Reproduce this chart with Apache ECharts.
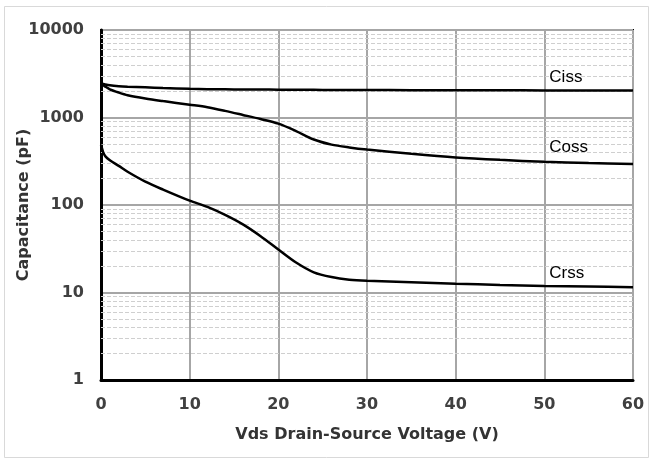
<!DOCTYPE html>
<html>
<head>
<meta charset="utf-8">
<script src="https://cdn.jsdelivr.net/npm/echarts@6/dist/echarts.min.js"></script>
<style>
html,body{margin:0;padding:0;background:#fff;}
#chart{width:653px;height:459px;}
</style>
</head>
<body>
<div id="chart"></div>
<script>
// ---- Data ----
var vds  = [0, 0.25, 0.5, 1, 2, 3, 5, 7, 10, 12, 14, 16, 18, 20, 22, 24, 26, 28, 30, 35, 40, 45, 50, 55, 60];
var ciss = [2450, 2420, 2380, 2330, 2280, 2250, 2210, 2170, 2130, 2110, 2100, 2090, 2085, 2080, 2075, 2070, 2065, 2060, 2060, 2055, 2050, 2045, 2040, 2035, 2030];
var coss = [2450, 2350, 2250, 2100, 1930, 1800, 1650, 1540, 1400, 1310, 1190, 1070, 960, 850, 700, 560, 490, 455, 430, 385, 350, 328, 312, 302, 295];
var crss = [490, 400, 360, 325, 280, 240, 185, 150, 112, 95, 77, 60, 44, 31, 22, 17, 15, 14, 13.6, 13.1, 12.6, 12.2, 11.9, 11.7, 11.5];

var seriesNames = ['Ciss', 'Coss', 'Crss'];
var labelV      = [50, 50, 50];
var labelC      = [2850, 461, 16.4];

var xTicks = [0, 10, 20, 30, 40, 50, 60];
var yTicks = [1, 10, 100, 1000, 10000];
var minorY = [2,3,4,5,6,7,8,9, 20,30,40,50,60,70,80,90, 200,300,400,500,600,700,800,900, 2000,3000,4000,5000,6000,7000,8000,9000];

var xTitle = 'Vds Drain-Source Voltage (V)';
var yTitle = 'Capacitance (pF)';

function pairs(xs, ys){ return xs.map(function(x,i){ return [x, ys[i]]; }); }

var allVals = [ciss, coss, crss];

var chart = echarts.init(document.getElementById('chart'), null, {renderer:'canvas'});

var series = seriesNames.map(function(name, i){
  var s = {
    name: name,
    type: 'line',
    data: pairs(vds, allVals[i]),
    smooth: 0.3,
    showSymbol: false,
    symbol: 'none',
    lineStyle: {color: '#000', width: 2.5},
    z: 5,
    markPoint: {
      symbol: 'circle',
      symbolSize: 0,
      silent: true,
      label: {
        show: true, position: 'right', distance: 5,
        formatter: name,
        color: '#000', fontFamily: 'Liberation Sans, Arial, sans-serif', fontSize: 17
      },
      data: [{coord: [labelV[i], labelC[i]]}]
    }
  };
  if (i === 0) {
    s.markLine = {
      silent: true,
      symbol: ['none','none'],
      label: {show: false},
      lineStyle: {color: '#cfcfcf', width: 1, type: [4, 2]},
      z: 1,
      data: minorY.map(function(v){ return {yAxis: v}; })
    };
  }
  return s;
});

var option = {
  animation: false,
  backgroundColor: '#fff',
  graphic: [{
    type: 'rect',
    shape: {x: 4.5, y: 6.5, width: 644, height: 451},
    style: {fill: 'none', stroke: '#d9d9d9', lineWidth: 1},
    silent: true, z: -1
  }],
  grid: {
    left: 101, right: 20, top: 30, bottom: 79,
    containLabel: false, outerBoundsMode: 'none',
    show: true, borderColor: '#000', borderWidth: 2, backgroundColor: 'transparent'
  },
  xAxis: {
    type: 'value', min: 0, max: 60, interval: 10,
    name: xTitle, nameLocation: 'middle', nameGap: 47, nameMoveOverlap: false,
    nameTextStyle: {fontFamily: 'DejaVu Sans', fontWeight: 'bold', fontSize: 16, color: '#333'},
    axisLine: {show: true, lineStyle: {color: '#000', width: 3}},
    axisTick: {show: false},
    axisLabel: {
      margin: 17, fontFamily: 'DejaVu Sans', fontWeight: 'bold', fontSize: 16, color: '#404040',
      formatter: function(v){ return xTicks.indexOf(v) >= 0 ? String(v) : ''; }
    },
    splitLine: {show: true, lineStyle: {color: '#a6a6a6', width: 2}}
  },
  yAxis: {
    type: 'log', logBase: 10, min: 1, max: 10000,
    name: yTitle, nameLocation: 'middle', nameGap: 69, nameRotate: 90, nameMoveOverlap: false,
    nameTextStyle: {fontFamily: 'DejaVu Sans', fontWeight: 'bold', fontSize: 16, color: '#333'},
    axisLine: {show: true, lineStyle: {color: '#000', width: 3}},
    axisTick: {show: false},
    axisLabel: {
      margin: 17, fontFamily: 'DejaVu Sans', fontWeight: 'bold', fontSize: 16, color: '#404040',
      formatter: function(v){ return yTicks.indexOf(Math.round(v)) >= 0 ? String(Math.round(v)) : ''; }
    },
    splitLine: {show: true, lineStyle: {color: '#a6a6a6', width: 2}}
  },
  series: series
};

chart.setOption(option);
</script>
</body>
</html>
